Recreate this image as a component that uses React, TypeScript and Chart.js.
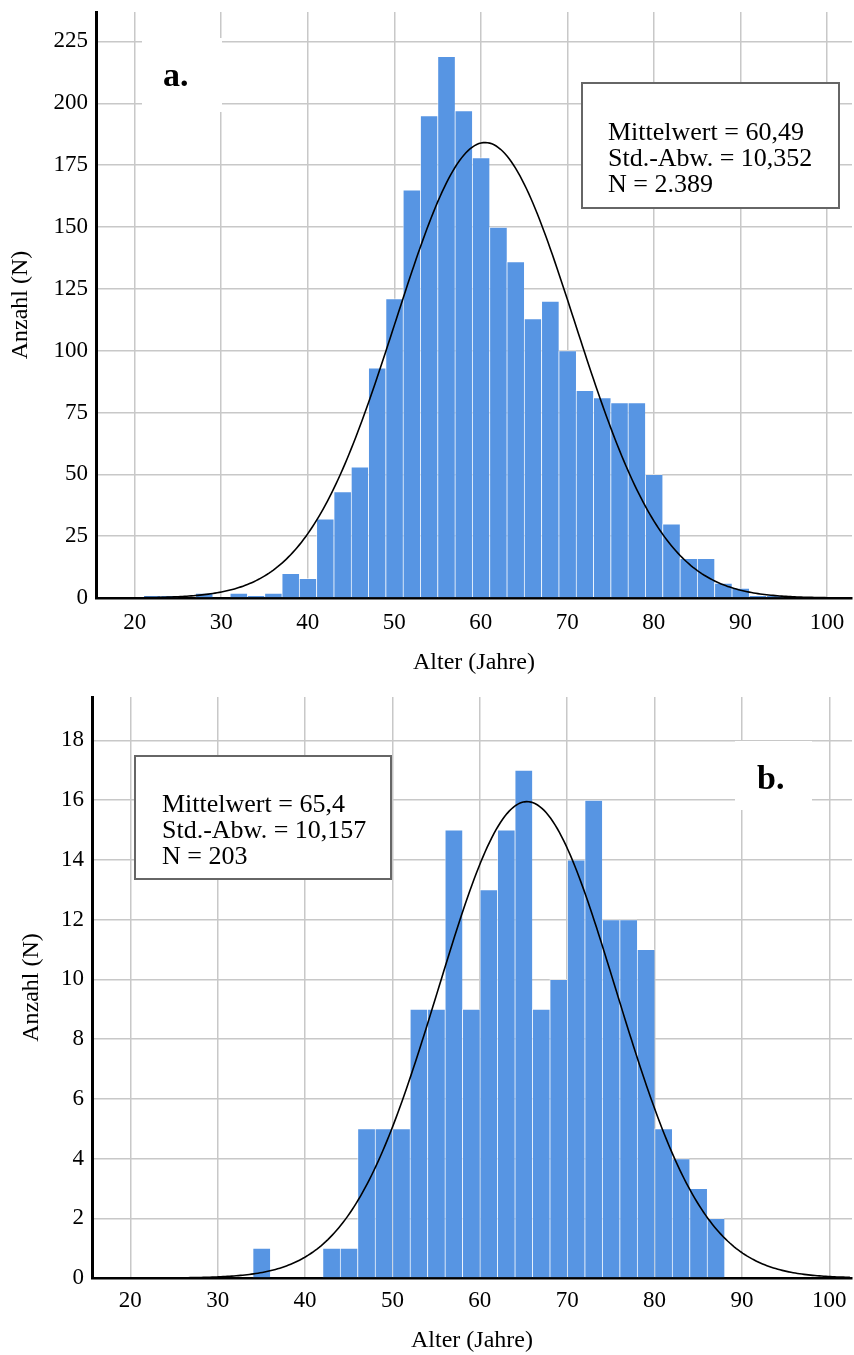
import React, { useEffect, useRef } from "react";
import { Chart, registerables } from "chart.js";

Chart.register(...registerables);

const FONT = '"Liberation Serif", "Times New Roman", serif';

// ---------- shared ----------
const BIN_WIDTH = 2;
const X_TITLE = "Alter (Jahre)";
const Y_TITLE = "Anzahl (N)";
const X_TICKS = [20, 30, 40, 50, 60, 70, 80, 90, 100];
const BAR_COLOR = "#5795e3";

// ---------- panel a ----------
const A_BIN_CENTERS = [
  22, 24, 26, 28, 30, 32, 34, 36, 38, 40,
  42, 44, 46, 48, 50,
  52, 54, 56, 58, 60,
  62, 64, 66, 68, 70,
  72, 74, 76, 78, 80,
  82, 84, 86, 88, 90, 92, 94,
];
const A_COUNTS = [
  1, 1, 0, 2, 0, 2, 1, 2, 10, 8,
  32, 43, 53, 93, 121,
  165, 195, 219, 197, 178,
  150, 136, 113, 120, 100,
  84, 81, 79, 79, 50,
  30, 16, 16, 6, 4, 1, 1,
];
const A_Y_TICKS = [0, 25, 50, 75, 100, 125, 150, 175, 200, 225];
const A_MEAN = 60.49;
const A_SD = 10.352;
const A_N = 2389;
const A_STATS = ["Mittelwert = 60,49", "Std.-Abw. = 10,352", "N = 2.389"];
const A_LABEL = "a.";

// ---------- panel b ----------
const B_BIN_CENTERS = [
  35, 37, 39, 41, 43, 45, 47, 49, 51, 53, 55, 57, 59, 61,
  63, 65, 67, 69, 71, 73, 75, 77, 79, 81, 83, 85, 87,
];
const B_COUNTS = [
  1, 0, 0, 0, 1, 1, 5, 5, 5, 9, 9, 15, 9, 13,
  15, 17, 9, 10, 14, 16, 12, 12, 11, 5, 4, 3, 2,
];
const B_Y_TICKS = [0, 2, 4, 6, 8, 10, 12, 14, 16, 18];
const B_MEAN = 65.4;
const B_SD = 10.157;
const B_N = 203;
const B_STATS = ["Mittelwert = 65,4", "Std.-Abw. = 10,157", "N = 203"];
const B_LABEL = "b.";

// expected count per bin of a normal distribution with the stated parameters
function normalCurve(mean: number, sd: number, n: number, xMin: number, xMax: number) {
  const pts: { x: number; y: number }[] = [];
  for (let x = xMin; x <= xMax + 1e-9; x += 0.25) {
    const z = (x - mean) / sd;
    pts.push({ x, y: (n * BIN_WIDTH * Math.exp(-0.5 * z * z)) / (sd * Math.sqrt(2 * Math.PI)) });
  }
  return pts;
}

type Spec = {
  top: number;
  height: number;
  padTop: number;
  yAxisWidth: number;
  xAxisHeight: number;
  xMin: number;
  xMax: number;
  yMax: number;
  centers: number[];
  counts: number[];
  yTicks: number[];
  mean: number;
  sd: number;
  n: number;
  stats: string[];
  label: string;
  statsBox: { x: number; y: number; w: number; h: number; tx: number; ly: number[] };
  labelBox: { x: number; y: number; w: number; h: number; tx: number; ty: number };
  yTitlePad: number;
  xTitlePad: number;
  xTickPad: number;
};

const SPEC_A: Spec = {
  top: 0,
  height: 680,
  padTop: 12,
  yAxisWidth: 96,
  xAxisHeight: 82,
  xMin: 15.53,
  xMax: 102.9,
  yMax: 236.9,
  centers: A_BIN_CENTERS,
  counts: A_COUNTS,
  yTicks: A_Y_TICKS,
  mean: A_MEAN,
  sd: A_SD,
  n: A_N,
  stats: A_STATS,
  label: A_LABEL,
  statsBox: { x: 582, y: 83, w: 257, h: 125, tx: 608, ly: [133, 159, 185] },
  labelBox: { x: 142, y: 38, w: 80, h: 74, tx: 163, ty: 86 },
  yTitlePad: 6,
  xTitlePad: 3,
  xTickPad: 11,
};

const SPEC_B: Spec = {
  top: 680,
  height: 675,
  padTop: 17,
  yAxisWidth: 92,
  xAxisHeight: 77,
  xMin: 15.61,
  xMax: 102.6,
  yMax: 19.45,
  centers: B_BIN_CENTERS,
  counts: B_COUNTS,
  yTicks: B_Y_TICKS,
  mean: B_MEAN,
  sd: B_SD,
  n: B_N,
  stats: B_STATS,
  label: B_LABEL,
  statsBox: { x: 135, y: 76, w: 256, h: 123, tx: 162, ly: [125, 151, 177] },
  labelBox: { x: 735, y: 61, w: 77, h: 69, tx: 757, ty: 109 },
  yTitlePad: 17,
  xTitlePad: 0,
  xTickPad: 9,
};

function Panel({ spec }: { spec: Spec }) {
  const ref = useRef<HTMLCanvasElement>(null);

  useEffect(() => {
    const canvas = ref.current;
    if (!canvas) return;

    const overlay = {
      id: "overlay",
      beforeDatasetsDraw(chart: any) {
        const ctx = chart.ctx;
        const b = spec.labelBox;
        ctx.save();
        ctx.fillStyle = "#ffffff";
        ctx.fillRect(b.x, b.y, b.w, b.h);
        ctx.fillStyle = "#000000";
        ctx.font = `bold 34px ${FONT}`;
        ctx.textBaseline = "alphabetic";
        ctx.textAlign = "left";
        ctx.fillText(spec.label, b.tx, b.ty);
        ctx.restore();
      },
      afterDatasetsDraw(chart: any) {
        const ctx = chart.ctx;
        const s = spec.statsBox;
        ctx.save();
        ctx.fillStyle = "#ffffff";
        ctx.fillRect(s.x, s.y, s.w, s.h);
        ctx.strokeStyle = "#666666";
        ctx.lineWidth = 2;
        ctx.strokeRect(s.x, s.y, s.w, s.h);
        ctx.fillStyle = "#000000";
        ctx.font = `26px ${FONT}`;
        ctx.textBaseline = "middle";
        ctx.textAlign = "left";
        spec.stats.forEach((t, i) => ctx.fillText(t, s.tx, s.ly[i]));
        ctx.restore();
      },
    };

    const barData = spec.centers.map((c, i) => ({ x: c, y: spec.counts[i] }));
    const curve = normalCurve(spec.mean, spec.sd, spec.n, spec.xMin, spec.xMax);

    const chart = new Chart(canvas, {
      type: "bar",
      data: {
        datasets: [
          {
            type: "line",
            data: curve,
            borderColor: "#000000",
            borderWidth: 1.6,
            pointRadius: 0,
            tension: 0,
            fill: false,
            order: 0,
          } as any,
          {
            type: "bar",
            data: barData,
            backgroundColor: BAR_COLOR,
            borderColor: "rgba(255,255,255,0.55)",
            borderWidth: { left: 1, right: 0, top: 1, bottom: 0 },
            borderSkipped: false,
            barPercentage: 1,
            categoryPercentage: 1,
            order: 1,
          } as any,
        ],
      },
      options: {
        animation: false,
        responsive: false,
        devicePixelRatio: 1,
        layout: { padding: { top: spec.padTop, right: 2, left: 0, bottom: 0 } },
        plugins: { legend: { display: false }, tooltip: { enabled: false } },
        scales: {
          x: {
            type: "linear",
            min: spec.xMin,
            max: spec.xMax,
            offset: false,
            afterBuildTicks: (s: any) => {
              s.ticks = X_TICKS.map((v) => ({ value: v }));
            },
            afterFit: (s: any) => {
              s.height = spec.xAxisHeight;
              s.paddingLeft = 0;
              s.paddingRight = 0;
            },
            grid: { color: "#c8c8c8", lineWidth: 1.5, drawTicks: false, offset: false },
            border: { color: "#000000", width: 2.5 },
            ticks: {
              color: "#000000",
              font: { family: FONT, size: 23 },
              padding: spec.xTickPad,
              maxRotation: 0,
              autoSkip: false,
            },
            title: {
              display: true,
              text: X_TITLE,
              color: "#000000",
              font: { family: FONT, size: 24 },
              padding: { top: 0, bottom: spec.xTitlePad },
            },
          },
          y: {
            type: "linear",
            min: 0,
            max: spec.yMax,
            afterBuildTicks: (s: any) => {
              s.ticks = spec.yTicks.map((v) => ({ value: v }));
            },
            afterFit: (s: any) => {
              s.width = spec.yAxisWidth;
              s.paddingTop = 0;
              s.paddingBottom = 0;
            },
            grid: { color: "#c8c8c8", lineWidth: 1.5, drawTicks: false },
            border: { color: "#000000", width: 3 },
            ticks: {
              color: "#000000",
              font: { family: FONT, size: 23 },
              padding: 8,
              autoSkip: false,
            },
            title: {
              display: true,
              text: Y_TITLE,
              color: "#000000",
              font: { family: FONT, size: 24 },
              padding: { top: spec.yTitlePad, bottom: 0 },
            },
          },
        },
      } as any,
      plugins: [overlay],
    });

    return () => chart.destroy();
  }, [spec]);

  return (
    <canvas
      ref={ref}
      width={854}
      height={spec.height}
      style={{ position: "absolute", left: 0, top: spec.top, width: 854, height: spec.height }}
    />
  );
}

export default function App() {
  return (
    <div style={{ position: "absolute", left: 0, top: 0, width: 854, height: 1355, background: "#ffffff" }}>
      <Panel spec={SPEC_A} />
      <Panel spec={SPEC_B} />
    </div>
  );
}
